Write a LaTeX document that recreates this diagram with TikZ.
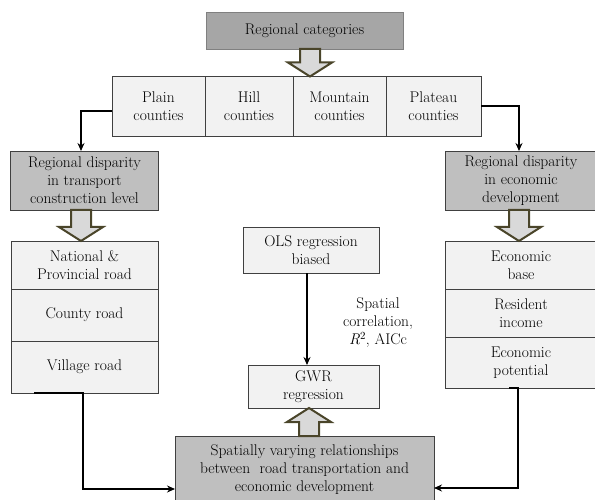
\documentclass[tikz,border=0pt]{standalone}
\usetikzlibrary{arrows.meta,positioning,calc}
\definecolor{ink}{HTML}{404040}
\definecolor{shade}{HTML}{BFBFBF}
\definecolor{deep}{HTML}{A6A6A6}
\definecolor{pale}{HTML}{F2F2F2}
\definecolor{olive}{HTML}{4A452A}
\definecolor{fog}{HTML}{D9D9D9}
% hollow block arrows, drawn between two anchors
\newcommand{\blkdown}[2]{%
  \draw[blk] let \p1=#1, \p2=#2 in
    (\x2-10pt,\y1) -- (\x2+10pt,\y1) -- (\x2+10pt,\y2+14pt) -- (\x2+22pt,\y2+14pt)
    -- (\x2,\y2) -- (\x2-22pt,\y2+14pt) -- (\x2-10pt,\y2+14pt) -- cycle;}
\newcommand{\blkup}[2]{%
  \draw[blk] let \p1=#1, \p2=#2 in
    (\x2-10pt,\y1) -- (\x2+10pt,\y1) -- (\x2+10pt,\y2-14pt) -- (\x2+22pt,\y2-14pt)
    -- (\x2,\y2) -- (\x2-22pt,\y2-14pt) -- (\x2-10pt,\y2-14pt) -- cycle;}

\begin{document}
\begin{tikzpicture}[x=1pt,y=-1pt,
   b/.style={draw=ink,fill=pale,inner sep=1pt,outer sep=0pt,align=center,
     font=\rmfamily\fontsize{15.5}{18}\selectfont},
   g/.style={b,fill=shade},
   blk/.style={draw=olive,line width=2pt,fill=fog,line join=miter},
   a/.style={-{Stealth[length=8pt,width=7pt]},line width=1.2pt,black}]
  \useasboundingbox (0,0) rectangle (595,500);
  \node[g,fill=deep,draw=gray,minimum width=197pt,minimum height=37pt] (cat) at (304.5,30.5) {Regional categories};
  % county row
  \node[b,minimum width=93pt,minimum height=60pt] (pln) at (158.5,106.5) {Plain\\ counties};
  \node[b,minimum width=88pt,minimum height=60pt,right=0pt of pln] (hil) {Hill\\ counties};
  \node[b,minimum width=93pt,minimum height=60pt,right=0pt of hil] (mnt) {Mountain\\ counties};
  \node[b,minimum width=95pt,minimum height=60pt,right=0pt of mnt] (plt) {Plateau\\ counties};
  % disparity boxes
  \node[g,minimum width=148pt,minimum height=59pt] (trn) at (84.5,180.5) {Regional disparity\\ in transport\\ construction level};
  \node[g,minimum width=152pt,minimum height=59pt] (eco) at (521,180.5) {Regional disparity\\ in economic\\ development};
  % road stack
  \node[b,minimum width=147pt,minimum height=48pt] (nat) at (84.5,265) {National \&\\ Provincial road};
  \node[b,minimum width=147pt,minimum height=52pt,below=0pt of nat] (cty) {County road};
  \node[b,minimum width=147pt,minimum height=52pt,below=0pt of cty] (vil) {Village road};
  % economy stack
  \node[b,minimum width=152pt,minimum height=48pt] (bas) at (521,265) {Economic\\ base};
  \node[b,minimum width=152pt,minimum height=48pt,below=0pt of bas] (inc) {Resident\\ income};
  \node[b,minimum width=152pt,minimum height=51pt,below=0pt of inc] (pot) {Economic\\ potential};
  % regression
  \node[b,minimum width=136pt,minimum height=46pt] (ols) at (311,250) {OLS regression\\ biased};
  \node[b,minimum width=131pt,minimum height=43pt] (gwr) at (313.5,386.5) {GWR\\ regression};
  \node[b,draw=none,fill=none] (crit) at (378,323) {Spatial\\ correlation,\\ \textit{R}\textsuperscript{2}, AICc};
  \node[g,minimum width=259pt,minimum height=68pt] (rel) at (304.5,470) {Spatially varying relationships\\ between\ \ road transportation and\\ economic development};
  % block arrows
  \blkdown{([xshift=5.5pt]cat.south)}{([xshift=5.5pt]cat.south |- mnt.north)}
  \blkdown{([xshift=-3.5pt]trn.south)}{([xshift=-3.5pt]trn.south |- nat.north)}
  \blkdown{([xshift=-2pt]eco.south)}{([xshift=-2pt]eco.south |- bas.north)}
  \blkup{([xshift=4.5pt]rel.north)}{([xshift=4.5pt]rel.north |- gwr.south)}
  % connectors
  \draw[a] ([yshift=-4.5pt]pln.west) -| ([xshift=-3.5pt]trn.north);
  \draw[a] ([yshift=0.5pt]plt.east) -| ([xshift=-2pt]eco.north);
  \draw[a] ([xshift=-4pt]ols.south) -- ([xshift=-4pt]ols.south |- gwr.north);
  \draw[a] ([xshift=23pt]vil.south west) -- ([xshift=-1.5pt]vil.south) |- ([yshift=-19pt]rel.west);
  \draw[a] ([xshift=-12pt]pot.south) -- ([xshift=-3pt]pot.south) |- ([yshift=-18pt]rel.east);
\end{tikzpicture}
\end{document}
